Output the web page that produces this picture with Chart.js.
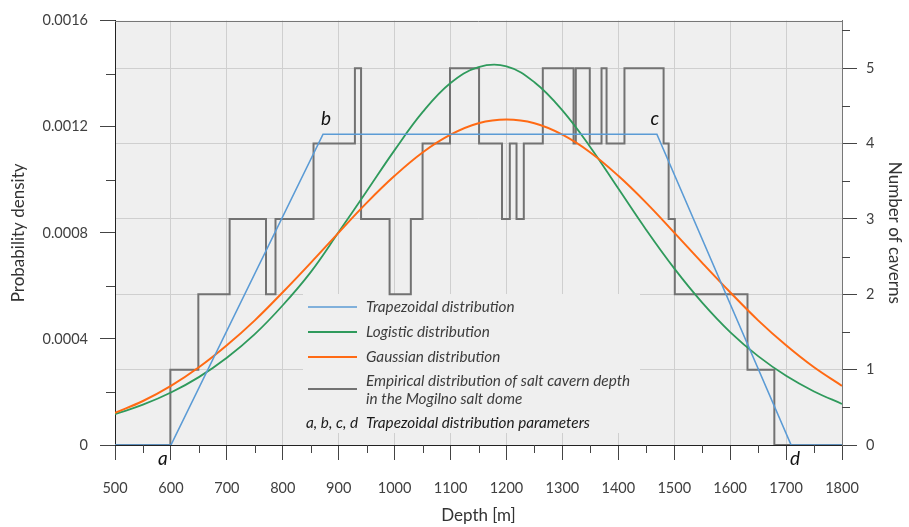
<!DOCTYPE html>
<html><head><meta charset="utf-8">
<script src="https://cdn.jsdelivr.net/npm/chart.js@4.4.0/dist/chart.umd.min.js"></script>
<style>html,body{margin:0;padding:0;background:#fff;}canvas{display:block;}</style>
</head><body>
<canvas id="c" width="909" height="527"></canvas>
<script>
// ---- data ----
const depthGrid = [500,550,600,650,700,750,800,850,900,950,1000,1050,1100,1150,1200,1250,1300,1350,1400,1450,1500,1550,1600,1650,1700,1750,1800];
const gaussianDensity = [0.000121,0.000166,0.000223,0.000293,0.000376,0.000470,0.000576,0.000687,0.000801,0.000913,0.001015,0.001103,0.001170,0.001213,0.001227,0.001213,0.001170,0.001103,0.001015,0.000913,0.000801,0.000687,0.000576,0.000470,0.000376,0.000293,0.000223];
const logisticDensity = [0.000116,0.000152,0.000198,0.000256,0.000329,0.000418,0.000527,0.000652,0.000803,0.000957,0.001112,0.001255,0.001365,0.001425,0.001428,0.001368,0.001262,0.001123,0.000967,0.000811,0.000666,0.000537,0.000426,0.000335,0.000261,0.000202,0.000155];
const trapezoidDepth = [500,600,872,1469,1709,1800];
const trapezoidDensity = [0,0,0.001172,0.001172,0,0];
const empiricalDepth = [500,599,649,705,770,787,855,929,940,991,1029,1050,1099,1151,1192,1206,1218,1231,1265,1320,1324,1349,1370,1379,1411,1481,1490,1501,1631,1679,1800];
const empiricalCount = [0,1,2,3,2,3,4,5,3,2,3,4,5,4,3,4,3,4,5,4,5,4,5,4,5,4,3,2,1,0,0];
const xTickLabels = ['500','600','700','800','900','1000','1100','1200','1300','1400','1500','1600','1700','1800'];
const densityTickLabels = ['0','0.0004','0.0008','0.0012','0.0016'];
const countTickLabels = ['0','1','2','3','4','5'];
const trapezoidParamLabels = ['a','b','c','d'];
const legendLabels = ['Trapezoidal distribution','Logistic distribution','Gaussian distribution'];
const empiricalLegendLines = ['Empirical distribution of salt cavern depth','in the Mogilno salt dome'];
const paramLegendKey = 'a, b, c, d';
const paramLegendText = 'Trapezoidal distribution parameters';

const COL_TRAP = '#5b9bd5', COL_LOG = '#2f9a5c', COL_GAUSS = '#ff6a14', COL_EMP = '#727272';
const PLOT_BG = '#efefef';
const FONT = 'Lato';

const toPts = (xs, ys) => xs.map((x, i) => ({x: x, y: ys[i]}));

const decorPlugin = {
  id: 'decor',
  beforeDraw(chart) {
    const {ctx, chartArea: a} = chart;
    ctx.save();
    ctx.fillStyle = '#ffffff';
    ctx.fillRect(0, 0, chart.width, chart.height);
    ctx.fillStyle = PLOT_BG;
    ctx.fillRect(a.left, a.top, a.right - a.left, a.bottom - a.top);
    ctx.restore();
  },
  beforeDatasetsDraw(chart) {
    const {ctx} = chart;
    ctx.save();
    ctx.fillStyle = PLOT_BG;
    ctx.fillRect(303, 294, 337, 139);
    ctx.restore();
  },
  afterDatasetsDraw(chart) {
    const {ctx} = chart;
    ctx.save();
    // legend
    const lx0 = 308, lx1 = 357, tx = 366;
    const rows = [
      {col: COL_TRAP, y: 307, w: 1.6, text: [legendLabels[0]]},
      {col: COL_LOG, y: 332, w: 1.8, text: [legendLabels[1]]},
      {col: COL_GAUSS, y: 357, w: 2, text: [legendLabels[2]]},
    ];
    ctx.font = 'italic 15.3px ' + FONT;
    ctx.textBaseline = 'middle';
    ctx.textAlign = 'left';
    rows.forEach(r => {
      ctx.strokeStyle = r.col; ctx.lineWidth = r.w;
      ctx.beginPath(); ctx.moveTo(lx0, r.y); ctx.lineTo(lx1, r.y); ctx.stroke();
      ctx.fillStyle = '#3c3c3c';
      ctx.fillText(r.text[0], tx, r.y);
    });
    ctx.strokeStyle = COL_EMP; ctx.lineWidth = 2;
    ctx.beginPath(); ctx.moveTo(lx0, 389); ctx.lineTo(lx1, 389); ctx.stroke();
    ctx.fillStyle = '#3c3c3c';
    ctx.fillText(empiricalLegendLines[0], tx, 381);
    ctx.fillText(empiricalLegendLines[1], tx, 399);
    ctx.fillStyle = '#1a1a1a';
    ctx.fillText(paramLegendKey, 306, 423);
    ctx.fillText(paramLegendText, tx, 423);

    // a, b, c, d labels next to the trapezoid corners
    const xs = chart.scales.x, ys = chart.scales.y;
    const offs = [[-8, 14], [3, -15], [-2, -15], [4, 14]];
    ctx.font = 'italic 19px ' + FONT;
    ctx.textAlign = 'center';
    ctx.fillStyle = '#111';
    for (let i = 0; i < 4; i++) {
      const px = xs.getPixelForValue(trapezoidDepth[i + 1]) + offs[i][0];
      const py = ys.getPixelForValue(trapezoidDensity[i + 1]) + offs[i][1];
      ctx.fillText(trapezoidParamLabels[i], px, py);
    }
    ctx.restore();
  },
  afterDraw(chart) {
    const {ctx, chartArea: a} = chart;
    const xs = chart.scales.x, ys = chart.scales.y, y2 = chart.scales.y2;
    ctx.save();
    ctx.strokeStyle = '#444'; ctx.lineWidth = 1;
    ctx.beginPath();
    for (let v = 550; v < 1800; v += 100) {
      const p = Math.round(xs.getPixelForValue(v)) + 0.5;
      ctx.moveTo(p, a.bottom); ctx.lineTo(p, a.bottom + 8);
    }
    for (let k = 1; k < 8; k += 2) {
      const p = Math.round(ys.getPixelForValue(k * 0.0002)) + 0.5;
      ctx.moveTo(a.left - 9, p); ctx.lineTo(a.left, p);
    }
    for (let k = 1; k < 12; k += 2) {
      const p = Math.round(y2.getPixelForValue(k * 0.5)) + 0.5;
      ctx.moveTo(a.right, p); ctx.lineTo(a.right + 8, p);
    }
    ctx.stroke();
    ctx.strokeStyle = '#777';
    ctx.beginPath();
    ctx.moveTo(a.left, Math.round(a.top) + 0.5); ctx.lineTo(a.right, Math.round(a.top) + 0.5);
    ctx.stroke();
    ctx.restore();
  }
};

new Chart(document.getElementById('c'), {
  type: 'line',
  data: {
    datasets: [
      {label: 'Trapezoidal distribution', data: toPts(trapezoidDepth, trapezoidDensity), borderColor: COL_TRAP, borderWidth: 1.6, pointRadius: 0, tension: 0, yAxisID: 'y', order: 0},
      {label: 'Gaussian distribution', data: toPts(depthGrid, gaussianDensity), borderColor: COL_GAUSS, borderWidth: 2, pointRadius: 0, tension: 0.4, yAxisID: 'y', order: 1},
      {label: 'Logistic distribution', data: toPts(depthGrid, logisticDensity), borderColor: COL_LOG, borderWidth: 1.8, pointRadius: 0, tension: 0.4, yAxisID: 'y', order: 2},
      {label: 'Empirical distribution', data: toPts(empiricalDepth, empiricalCount), borderColor: COL_EMP, borderWidth: 2, pointRadius: 0, stepped: 'before', yAxisID: 'y2', order: 3}
    ]
  },
  options: {
    responsive: false,
    animation: false,
    devicePixelRatio: 1,
    layout: {padding: {top: 15, left: 0, right: 0, bottom: 0}},
    plugins: {legend: {display: false}, tooltip: {enabled: false}},
    scales: {
      x: {
        type: 'linear', min: 500, max: 1800,
        ticks: {stepSize: 100, autoSkip: false, maxRotation: 0, padding: 20, color: '#404040', font: {family: FONT, size: 14.5},
          callback: (v, i) => xTickLabels[i]},
        grid: {color: '#cfcfcf', lineWidth: 1, tickLength: 15, tickColor: '#444'},
        border: {display: true, color: '#222', width: 1},
        title: {display: true, text: 'Depth [m]', color: '#333', font: {family: FONT, size: 17}, padding: {top: 0, bottom: 1}},
        afterFit: s => { s.height = 82; }
      },
      y: {
        position: 'left', min: 0, max: 0.0016,
        ticks: {count: 5, padding: 12, color: '#404040', font: {family: FONT, size: 14.5}, callback: (v, i) => densityTickLabels[i]},
        grid: {drawOnChartArea: false, tickLength: 15, tickColor: '#444'},
        border: {display: true, color: '#222', width: 1},
        title: {display: true, text: 'Probability density', color: '#333', font: {family: FONT, size: 17}, padding: {top: 8, bottom: 0}},
        afterFit: s => { s.width = 115; }
      },
      y2: {
        position: 'right', min: 0, max: 5.63,
        ticks: {stepSize: 1, includeBounds: false, padding: 9, color: '#404040', font: {family: FONT, size: 14.5}, callback: (v, i) => countTickLabels[i]},
        grid: {drawOnChartArea: true, color: '#cfcfcf', lineWidth: 1, tickLength: 15, tickColor: '#444'},
        border: {display: true, color: '#777', width: 1},
        title: {display: true, text: 'Number of caverns', color: '#333', font: {family: FONT, size: 17}, padding: {top: 4, bottom: 0}},
        afterFit: s => { s.width = 67; }
      }
    }
  },
  plugins: [decorPlugin]
});
</script>
</body></html>
